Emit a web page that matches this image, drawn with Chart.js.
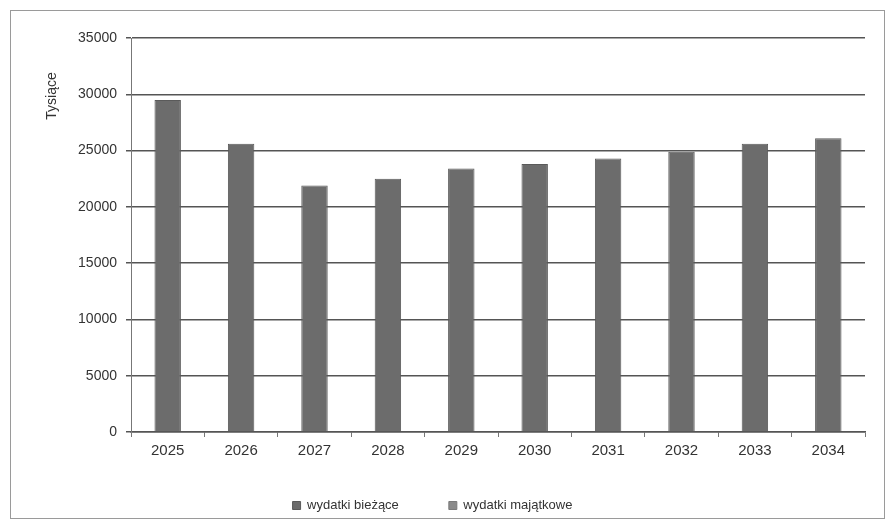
<!DOCTYPE html>
<html>
<head>
<meta charset="utf-8">
<script src="https://cdn.jsdelivr.net/npm/chart.js@4"></script>
<style>
  body { margin: 0; background: #fff; }
  #wrap { width: 887px; height: 529px; }
</style>
</head>
<body>
<div id="wrap"><canvas id="wydatki_chart" width="887" height="529"></canvas></div>
<script>
const ctx = document.getElementById('wydatki_chart').getContext('2d');

// dane z wykresu (tys. zł)
const years = ['2025', '2026', '2027', '2028', '2029', '2030', '2031', '2032', '2033', '2034'];
const biezace = [29500, 25600, 21900, 22500, 23400, 23800, 24300, 24900, 25600, 26100];
const majatkowe = [0, 0, 0, 0, 0, 0, 0, 0, 0, 0];
const yTicks = [0, 5000, 10000, 15000, 20000, 25000, 30000, 35000];

// ramka wokol wykresu + tytul osi Y
const framePlugin = {
    id: 'frame',
    afterLayout(chart) {
        // legenda troche wyzej niz wynika z paddingu
        chart.legend.top -= 17;
        chart.legend.bottom -= 17;
    },
    beforeDraw(chart) {
        const c = chart.ctx;
        c.save();
        c.fillStyle = '#fff';
        c.fillRect(0, 0, chart.width, chart.height);
        c.strokeStyle = '#9a9a9a';
        c.lineWidth = 1;
        c.strokeRect(10.5, 10.5, 874, 508);
        c.restore();
    },
    afterDraw(chart) {
        const c = chart.ctx;
        c.save();
        c.translate(52, 96);
        c.rotate(-Math.PI / 2);
        c.font = '14px "Liberation Sans", Arial, sans-serif';
        c.fillStyle = '#333';
        c.textAlign = 'center';
        c.textBaseline = 'middle';
        c.fillText('Tysiące', 0, 0);
        c.restore();
    }
};

const font = { family: '"Liberation Sans", Arial, sans-serif', size: 15 };

let chart = new Chart(ctx, {
    type: 'bar',
    data: {
        labels: years,
        datasets: [
            {
                label: 'wydatki bieżące',
                data: biezace,
                backgroundColor: '#6c6c6c',
                borderColor: '#5a5a5a',
                borderWidth: 1,
                barPercentage: 0.36,
                categoryPercentage: 1
            },
            {
                label: 'wydatki majątkowe',
                data: majatkowe,
                backgroundColor: '#8a8a8a',
                borderColor: '#7a7a7a',
                borderWidth: 1,
                barPercentage: 0.36,
                categoryPercentage: 1
            }
        ]
    },
    options: {
        responsive: false,
        animation: false,
        layout: { padding: { left: 0, right: 22, top: 38, bottom: -10 } },
        plugins: {
            tooltip: { enabled: false },
            legend: {
                position: 'bottom',
                labels: {
                    boxWidth: 8,
                    boxHeight: 8,
                    padding: 50,
                    color: '#333',
                    font: { family: font.family, size: 13 }
                }
            }
        },
        scales: {
            x: {
                stacked: true,
                offset: true,
                border: { color: '#555', width: 1.5 },
                grid: { offset: true, drawOnChartArea: false, drawTicks: true, tickLength: 5, color: '#777' },
                ticks: { color: '#333', font: font, padding: 5 },
                afterFit(s) { s.height = 34; }
            },
            y: {
                stacked: true,
                min: 0,
                max: 35000,
                afterBuildTicks(s) { s.ticks = yTicks.map(v => ({ value: v })); },
                border: { color: '#777', width: 1 },
                grid: { color: '#555', lineWidth: 1.5, tickLength: 5 },
                ticks: {
                    color: '#333',
                    font: { family: font.family, size: 14 },
                    padding: 9,
                    callback: (v) => String(v)
                },
                afterFit(s) { s.width = 131; }
            }
        }
    },
    plugins: [framePlugin]
});
</script>
</body>
</html>
